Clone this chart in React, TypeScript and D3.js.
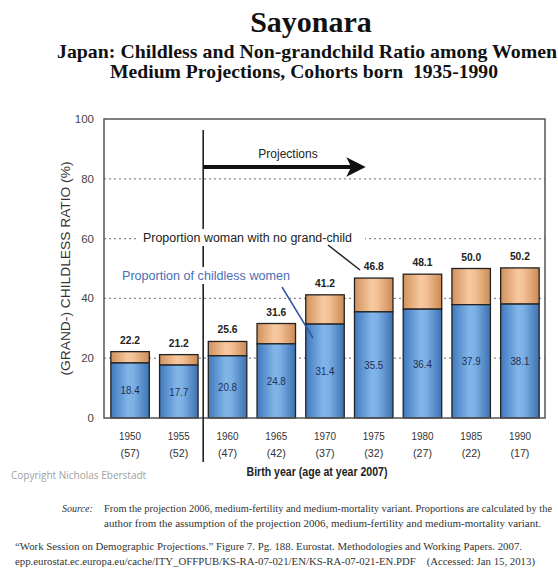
import React from "react";
import * as d3 from "d3";

// Cohort birth years and their age in 2007
const birthYears = ["1950", "1955", "1960", "1965", "1970", "1975", "1980", "1985", "1990"];
const ages = ["(57)", "(52)", "(47)", "(42)", "(37)", "(32)", "(27)", "(22)", "(17)"];
// Share of women who stay childless (%)
const childless = [18.4, 17.7, 20.8, 24.8, 31.4, 35.5, 36.4, 37.9, 38.1];
// Share of women with no grandchild (%)
const noGrandchild = [22.2, 21.2, 25.6, 31.6, 41.2, 46.8, 48.1, 50.0, 50.2];
const yTicks = [0, 20, 40, 60, 80, 100];

const W = 558;
const H = 574;
const plot = { left: 104, right: 545, top: 119, bottom: 418 };
const SANS = "'Liberation Sans', Arial, sans-serif";
const SERIF = "'Liberation Serif', 'Times New Roman', serif";

export default function App() {
  const x = d3
    .scaleBand<string>()
    .domain(birthYears)
    .range([plot.left + 1, plot.right])
    .paddingInner(0.21)
    .paddingOuter(0.12);
  const y = d3.scaleLinear().domain([0, 100]).range([plot.bottom, plot.top]);
  const bw = x.bandwidth();

  // split between the 1955 and 1960 cohorts marks the start of projections
  const splitX = ((x("1955") as number) + bw + (x("1960") as number)) / 2;

  return (
    <svg
      width={W}
      height={H}
      viewBox={`0 0 ${W} ${H}`}
      style={{ position: "absolute", left: 0, top: 0, background: "#fff" }}
    >
      <defs>
        <linearGradient id="blueGrad" x1="0" x2="1" y1="0" y2="0">
          <stop offset="0" stopColor="#3f78bd" />
          <stop offset="0.45" stopColor="#82b6e9" />
          <stop offset="0.6" stopColor="#7cafe3" />
          <stop offset="1" stopColor="#3c72b4" />
        </linearGradient>
        <linearGradient id="tanGrad" x1="0" x2="1" y1="0" y2="0">
          <stop offset="0" stopColor="#d2915c" />
          <stop offset="0.45" stopColor="#f7c9a0" />
          <stop offset="0.6" stopColor="#f3c095" />
          <stop offset="1" stopColor="#cc8a55" />
        </linearGradient>
      </defs>

      {/* Titles */}
      <text x={311} y={32} textAnchor="middle" fontFamily={SERIF} fontWeight="bold" fontSize={30} fill="#111">
        Sayonara
      </text>
      <text x={307} y={58} textAnchor="middle" fontFamily={SERIF} fontWeight="bold" fontSize={19.5} fill="#111" textLength={500} lengthAdjust="spacingAndGlyphs">
        Japan: Childless and Non-grandchild Ratio among Women
      </text>
      <text x={304} y={78} textAnchor="middle" fontFamily={SERIF} fontWeight="bold" fontSize={19.5} fill="#111" textLength={388} lengthAdjust="spacingAndGlyphs" xmlSpace="preserve">
        Medium Projections, Cohorts born  1935-1990
      </text>

      {/* Dotted gridlines */}
      {yTicks
        .filter((t) => t > 0 && t < 100)
        .map((t) => (
          <line key={t} x1={plot.left} x2={plot.right} y1={y(t)} y2={y(t)} stroke="#888" strokeWidth={1.3} strokeDasharray="2,3" />
        ))}

      {/* Stacked bars */}
      {birthYears.map((yr, i) => {
        const bx = x(yr) as number;
        return (
          <g key={yr}>
            <rect
              x={bx}
              width={bw}
              y={y(noGrandchild[i])}
              height={y(childless[i]) - y(noGrandchild[i])}
              fill="url(#tanGrad)"
              stroke="#222"
              strokeWidth={1.3}
            />
            <rect
              x={bx}
              width={bw}
              y={y(childless[i])}
              height={y(0) - y(childless[i])}
              fill="url(#blueGrad)"
              stroke="#222"
              strokeWidth={1.3}
            />
            <text
              x={bx + bw / 2}
              y={y(noGrandchild[i]) - 8}
              textAnchor="middle"
              fontFamily={SANS}
              fontWeight="bold"
              fontSize={11}
              fill="#222"
              textLength={20}
              lengthAdjust="spacingAndGlyphs"
            >
              {noGrandchild[i].toFixed(1)}
            </text>
            <text
              x={bx + bw / 2}
              y={(y(childless[i]) + y(0)) / 2 + 4}
              textAnchor="middle"
              fontFamily={SANS}
              fontSize={11}
              fill="#1f2d55"
              textLength={19}
              lengthAdjust="spacingAndGlyphs"
            >
              {childless[i].toFixed(1)}
            </text>
            <text x={bx + bw / 2} y={440} textAnchor="middle" fontFamily={SANS} fontSize={11} fill="#333" textLength={22} lengthAdjust="spacingAndGlyphs">
              {yr}
            </text>
            <text x={bx + bw / 2} y={457} textAnchor="middle" fontFamily={SANS} fontSize={11} fill="#333" textLength={19} lengthAdjust="spacingAndGlyphs">
              {ages[i]}
            </text>
          </g>
        );
      })}

      {/* Plot frame */}
      <rect
        x={plot.left}
        y={plot.top}
        width={plot.right - plot.left}
        height={plot.bottom - plot.top}
        fill="none"
        stroke="#555"
        strokeWidth={1.5}
      />

      {/* Y tick labels */}
      {yTicks.map((t) => (
        <text key={t} x={94} y={y(t) + 4} textAnchor="end" fontFamily={SANS} fontSize={11.5} fill="#444">
          {t}
        </text>
      ))}
      <text
        transform={`translate(70, ${(plot.top + plot.bottom) / 2}) rotate(-90)`}
        textAnchor="middle"
        fontFamily={SANS}
        fontSize={12}
        fill="#333"
        textLength={214}
        lengthAdjust="spacingAndGlyphs"
      >
        (GRAND-) CHILDLESS RATIO (%)
      </text>

      {/* Projection divider and arrow */}
      <line x1={splitX} x2={splitX} y1={130} y2={462} stroke="#222" strokeWidth={1.6} />
      <line x1={splitX} x2={352} y1={167} y2={167} stroke="#111" strokeWidth={4} />
      <path d="M348,159 L364,167 L348,175 L352,167 Z" fill="#111" stroke="#111" strokeWidth={1.5} />
      <text x={288} y={158} textAnchor="middle" fontFamily={SANS} fontSize={12} fill="#222">
        Projections
      </text>

      {/* Annotations, each on a white backing */}
      <rect x={139} y={229} width={226} height={17} fill="#fff" />
      <text x={143} y={242} fontFamily={SANS} fontSize={12} fill="#222" textLength={209} lengthAdjust="spacingAndGlyphs">
        Proportion woman with no grand-child
      </text>
      <line x1={328} y1={245} x2={360} y2={270} stroke="#222" strokeWidth={1.5} />
      <rect x={119} y={267} width={174} height={17} fill="#fff" />
      <text x={122} y={280} fontFamily={SANS} fontSize={12} fill="#4a6db5" textLength={168} lengthAdjust="spacingAndGlyphs">
        Proportion of childless women
      </text>
      <line x1={282} y1={287} x2={313} y2={338} stroke="#3557a8" strokeWidth={1.5} />

      {/* Axis title and credit */}
      <text x={317} y={476} textAnchor="middle" fontFamily={SANS} fontWeight="bold" fontSize={12} fill="#222" textLength={141} lengthAdjust="spacingAndGlyphs">
        Birth year (age at year 2007)
      </text>
      <text x={11} y={479} fontFamily="'Open Sans', 'Noto Sans', sans-serif" fontSize={10} fill="#a0a0a0">
        Copyright Nicholas Eberstadt
      </text>

      {/* Source notes */}
      <text x={62} y={512} fontFamily={SERIF} fontStyle="italic" fontSize={10} fill="#333">
        Source:
      </text>
      <text x={104} y={512} fontFamily={SERIF} fontSize={10} fill="#333" textLength={448} lengthAdjust="spacingAndGlyphs">
        From the projection 2006, medium-fertility and medium-mortality variant. Proportions are calculated by the
      </text>
      <text x={104} y={527} fontFamily={SERIF} fontSize={10} fill="#333" textLength={437} lengthAdjust="spacingAndGlyphs">
        author from the assumption of the projection 2006, medium-fertility and medium-mortality variant.
      </text>
      <text x={15} y={550} fontFamily={SERIF} fontSize={10} fill="#333" textLength={507} lengthAdjust="spacingAndGlyphs">
        “Work Session on Demographic Projections.” Figure 7. Pg. 188. Eurostat. Methodologies and Working Papers. 2007.
      </text>
      <text x={15} y={565} fontFamily={SERIF} fontSize={10} fill="#333" textLength={520} lengthAdjust="spacingAndGlyphs" xmlSpace="preserve">
        epp.eurostat.ec.europa.eu/cache/ITY_OFFPUB/KS-RA-07-021/EN/KS-RA-07-021-EN.PDF    (Accessed: Jan 15, 2013)
      </text>
    </svg>
  );
}
